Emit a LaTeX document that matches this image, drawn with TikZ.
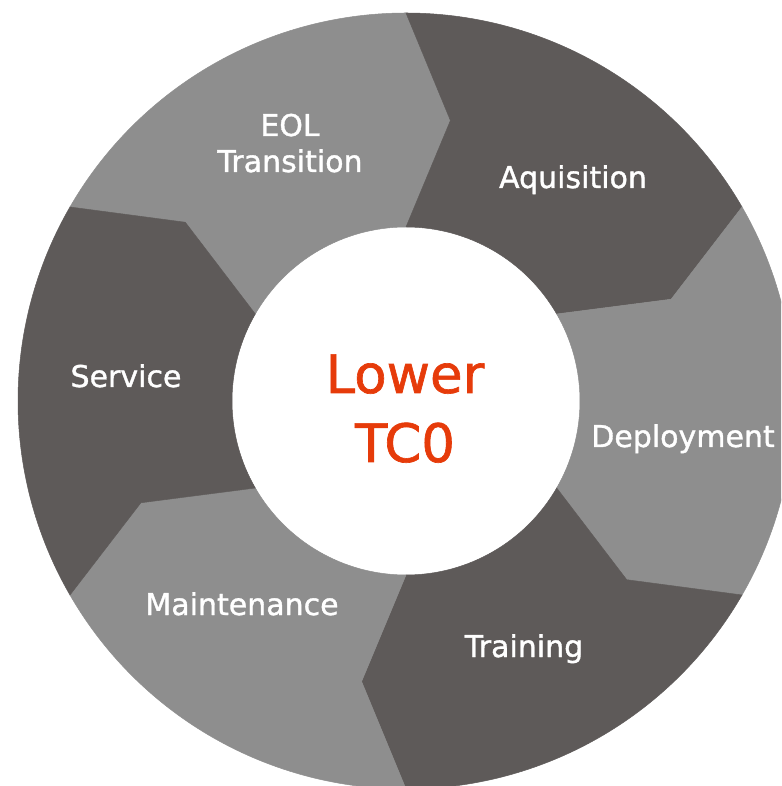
\documentclass[tikz,border=0pt]{standalone}
\usepackage{fontspec}
\setmainfont{DejaVu Sans}[BoldFont={DejaVu Sans}, BoldFeatures={FakeBold=1.2}]
\definecolor{darkseg}{HTML}{5E5A59}
\definecolor{lightseg}{HTML}{8E8E8E}
\definecolor{tcored}{HTML}{E63B0A}

\begin{document}
\begin{tikzpicture}[x=1pt,y=1pt,
    seglabel/.style={text=white, font=\fontsize{30}{36}\selectfont\bfseries, anchor=base, inner sep=0pt, align=center},
    centerlabel/.style={text=tcored, font=\fontsize{53}{69}\selectfont\bfseries, anchor=base, inner sep=0pt, align=center}]
    \useasboundingbox (-406,-385) rectangle (375,401);
    \clip (-406,-385) rectangle (375,401);
    % ring of chevron segments, clockwise from the top left
    \foreach \a/\col in {150/lightseg, 90/darkseg, 30/lightseg, -30/darkseg, -90/lightseg, -150/darkseg} {
        \pgfmathsetmacro{\b}{\a-60}
        \filldraw[fill=\col, draw=\col, line width=0.5] (\a:388) arc[start angle=\a, end angle=\b, radius=388]
            -- ({\b-9}:284) -- (\b:174) arc[start angle=\b, end angle=\a, radius=174]
            -- ({\a-9}:284) -- cycle;
    }

    % base of a two-line node is the last line
    \node[seglabel] (eol) at (-116,229) {EOL\\Transition};
    \node[seglabel] (aquisition) at (167,213) {Aquisition};
    \node[seglabel] (deployment) at (277,-46) {Deployment};
    \node[seglabel] (training) at (118,-256) {Training};
    \node[seglabel] (maintenance) at (-164,-214) {Maintenance};
    \node[seglabel] (service) at (-280,14) {Service};

    \node[centerlabel] (lower) at (-1,-61) {Lower\\TC0};
\end{tikzpicture}
\end{document}
